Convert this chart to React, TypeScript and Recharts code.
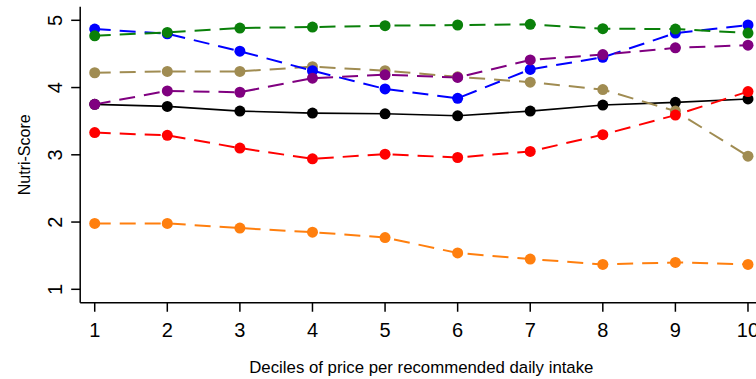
import { LineChart, Line, XAxis, YAxis } from 'recharts';

const deciles = [1, 2, 3, 4, 5, 6, 7, 8, 9, 10];
const yTicks = [1, 2, 3, 4, 5];

const blackSeries = [3.75, 3.72, 3.65, 3.62, 3.61, 3.58, 3.65, 3.74, 3.78, 3.83];
const tanSeries = [4.22, 4.24, 4.24, 4.31, 4.25, 4.16, 4.08, 3.97, 3.65, 2.98];
const blueSeries = [4.87, 4.80, 4.54, 4.25, 3.98, 3.84, 4.27, 4.45, 4.81, 4.93];
const greenSeries = [4.77, 4.82, 4.885, 4.90, 4.92, 4.93, 4.94, 4.875, 4.87, 4.81];
const purpleSeries = [3.75, 3.95, 3.93, 4.14, 4.19, 4.15, 4.41, 4.49, 4.59, 4.63];
const redSeries = [3.33, 3.29, 3.10, 2.94, 3.01, 2.96, 3.05, 3.30, 3.59, 3.94];
const orangeSeries = [1.98, 1.98, 1.91, 1.85, 1.77, 1.54, 1.45, 1.37, 1.40, 1.37];

const data = deciles.map((d, i) => ({
  decile: d,
  black: blackSeries[i],
  tan: tanSeries[i],
  blue: blueSeries[i],
  green: greenSeries[i],
  purple: purpleSeries[i],
  red: redSeries[i],
  orange: orangeSeries[i],
}));

// drawing order: later entries sit on top
const lines = [
  { key: 'black', color: '#000000', dashed: false },
  { key: 'tan', color: '#a08c52', dashed: true },
  { key: 'blue', color: '#0000ff', dashed: true },
  { key: 'green', color: '#0a800a', dashed: true },
  { key: 'purple', color: '#800080', dashed: true },
  { key: 'red', color: '#ff0000', dashed: true },
  { key: 'orange', color: '#ff7f0e', dashed: true },
];

const FONT = '"Liberation Sans", Arial, Helvetica, sans-serif';

function RotatedTick(props: any) {
  const { x, y, payload } = props;
  const bx = x - 9;
  return (
    <text
      x={bx}
      y={y}
      transform={`rotate(-90, ${bx}, ${y})`}
      textAnchor="middle"
      fontSize={20}
      fontFamily={FONT}
      fill="#000"
    >
      {payload.value}
    </text>
  );
}

export default function App() {
  return (
    <div style={{ position: 'absolute', left: 0, top: 0, width: 756, height: 379, overflow: 'hidden', background: '#fff' }}>
      <LineChart
        width={770}
        height={379}
        data={data}
        margin={{ top: 6.85, right: 7.5, bottom: 0, left: 0 }}
      >
        <XAxis
          xAxisId="top"
          orientation="top"
          dataKey="decile"
          type="number"
          domain={[0.8, 10.2]}
          height={0}
          tick={false}
          tickLine={false}
          stroke="#777"
          strokeWidth={1.5}
        />
        <XAxis
          dataKey="decile"
          type="number"
          domain={[0.8, 10.2]}
          ticks={deciles}
          height={76.25}
          tickSize={9}
          tickMargin={11}
          stroke="#000"
          strokeWidth={1.5}
          tick={{ fontSize: 20, fontFamily: FONT, fill: '#000' }}
          label={{
            value: 'Deciles of price per recommended daily intake',
            position: 'insideBottom',
            offset: 6.3,
            fontSize: 16.8,
            fontFamily: FONT,
            fill: '#000',
          }}
        />
        <YAxis
          type="number"
          domain={[0.8, 5.2]}
          ticks={yTicks}
          width={80.2}
          tickSize={9}
          tickMargin={0}
          stroke="#000"
          strokeWidth={1.5}
          tick={<RotatedTick />}
          label={{
            value: 'Nutri-Score',
            position: 'insideLeft',
            angle: -90,
            offset: 24,
            fontSize: 16,
            fontFamily: FONT,
            fill: '#000',
            style: { textAnchor: 'middle' },
          }}
        />
        {lines.map((l) => (
          <Line
            key={l.key}
            dataKey={l.key}
            type="linear"
            stroke={l.color}
            strokeWidth={l.dashed ? 2 : 1.6}
            strokeDasharray={l.dashed ? '16 9' : undefined}
            dot={{ r: 5.5, fill: l.color, stroke: 'none', strokeDasharray: '' }}
            activeDot={false}
            isAnimationActive={false}
          />
        ))}
      </LineChart>
    </div>
  );
}
